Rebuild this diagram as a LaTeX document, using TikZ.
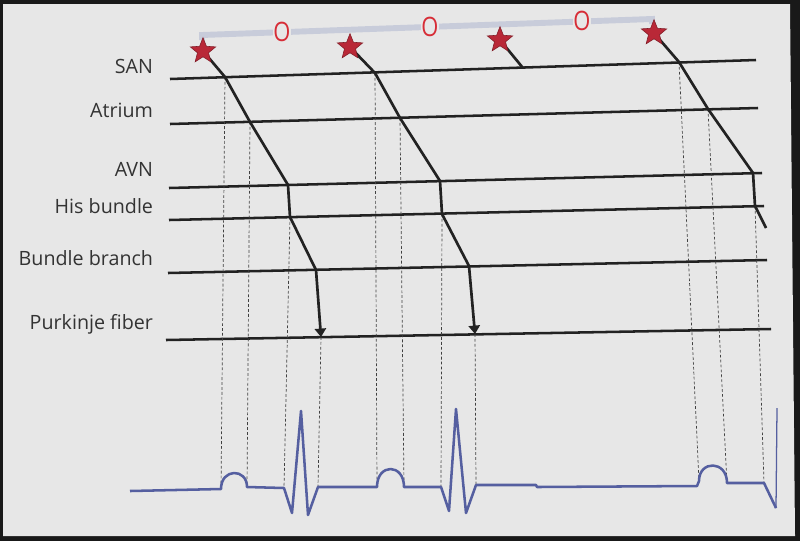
\documentclass[tikz,border=0pt]{standalone}
\usepackage{fontspec}
\setmainfont{Open Sans}
\usetikzlibrary{shapes.geometric,arrows.meta}

\definecolor{bgpaper}{RGB}{231,231,231}
\definecolor{inkline}{RGB}{34,34,34}
\definecolor{ecgblue}{RGB}{85,95,160}
\definecolor{starred}{RGB}{185,40,55}
\definecolor{barblue}{RGB}{200,204,218}
\definecolor{markred}{RGB}{215,45,55}

\begin{document}
\begin{tikzpicture}[x=0.025cm,y=-0.025cm,
    level/.style={line width=1.8pt, draw=inkline},
    cond/.style={line width=1.9pt, draw=inkline, line join=round},
    guide/.style={line width=0.5pt, draw=black!75, dash pattern=on 2pt off 1.5pt},
    ecg/.style={line width=1.8pt, draw=ecgblue, line join=round},
    gapbar/.style={line width=4.2pt, draw=barblue},
    spark/.style={star, star points=5, star point ratio=2.3, minimum size=19pt,
        inner sep=0pt, fill=starred, draw=starred!70!black, line width=0.4pt},
    okmark/.style={text=markred, fill=bgpaper, inner sep=0.5pt,
        font=\fontsize{19}{20}\selectfont},
    lbl/.style={anchor=base east, text=black!80, font=\fontsize{14}{16}\selectfont}]
\useasboundingbox (0,0) rectangle (800,541);

% photo frame
\fill[black!90] (0,0) rectangle (800,541);
\fill[bgpaper] (3,4) -- (790,4) -- (795,536) -- (3,536) -- cycle;

% tissue levels with their labels
\foreach \name/\txt/\yt/\xl/\yl/\xr/\yr in {san/SAN/73/170/79/756/60,
    atr/Atrium/117/170/124/758/108, avn/AVN/176/169/188/762/173,
    his/His bundle/213/169/220/764/206, bb/Bundle branch/265/168/273/767/260,
    pf/Purkinje fiber/329/166/340/771/329}
{
  \coordinate (\name-w) at (\xl,\yl);
  \coordinate (\name-e) at (\xr,\yr);
  \draw[level] (\name-w) -- (\name-e);
  \node[lbl] (lab-\name) at (158,\yt) {\txt};
}

% sinus impulses and bar with O marks
\coordinate (bartl) at (202,40);
\coordinate (barw) at (202,35);
\coordinate (bare) at (652,19);
\coordinate (bartr) at (652,24);
\draw[gapbar] (bartl) -- (barw) -- (bare) -- (bartr);
\node[okmark] (ok1) at (282,32) {\scalebox{0.82}[1]{O}};
\node[okmark] (ok2) at (430,27) {\scalebox{0.82}[1]{O}};
\node[okmark] (ok3) at (582,21) {\scalebox{0.82}[1]{O}};

\coordinate (st1) at (203,51);
\coordinate (st2) at (350,47);
\coordinate (st3) at (500,40);
\coordinate (st4) at (654,33);

% crossing points, beat 1
\coordinate (b1san) at (225,77);
\coordinate (b1atr) at (250,122);
\coordinate (b1avn) at (288,185);
\coordinate (b1his) at (290,217);
\coordinate (b1bb) at (316,270);
\coordinate (b1pf) at (321,337);
% beat 2
\coordinate (b2san) at (375,73);
\coordinate (b2atr) at (400,118);
\coordinate (b2avn) at (440,181);
\coordinate (b2his) at (442,214);
\coordinate (b2bb) at (469,266);
\coordinate (b2pf) at (475,334);
% beat 3 (blocked)
\coordinate (b3san) at (523,68);
% beat 4
\coordinate (b4san) at (679,62);
\coordinate (b4atr) at (708,109);
\coordinate (b4avn) at (753,173);
\coordinate (b4his) at (755,206);
\coordinate (b4end) at (766,228);

% ECG points
\coordinate (e0) at (130,491);
\coordinate (p1a) at (221,489);
\coordinate (p1b) at (247,487);
\coordinate (q1a) at (284,488);
\coordinate (q1b) at (318,487);
\coordinate (p2a) at (377,487);
\coordinate (p2b) at (404,487);
\coordinate (q2a) at (441,487);
\coordinate (q2b) at (476,485);
\coordinate (p3a) at (699,481);
\coordinate (p3b) at (727,483);
\coordinate (q3a) at (764,483);
\coordinate (s3) at (776,508);

% dashed guides down to the ECG
\foreach \u/\v in {b1san/p1a, b1atr/p1b, b1his/q1a, b1pf/q1b,
    b2san/p2a, b2atr/p2b, b2his/q2a, b2pf/q2b,
    b4san/p3a, b4atr/p3b, b4his/q3a}
  \draw[guide] (\u) -- (\v);

% conduction
\draw[cond] (st1) -- (b1san) -- (b1atr) -- (b1avn) -- (b1his) -- (b1bb);
\draw[cond,-{Triangle[length=6pt,width=8pt]}] (b1bb) -- (b1pf);
\draw[cond] (st2) -- (b2san) -- (b2atr) -- (b2avn) -- (b2his) -- (b2bb);
\draw[cond,-{Triangle[length=6pt,width=8pt]}] (b2bb) -- (b2pf);
\draw[cond] (st3) -- (b3san);
\draw[cond] (st4) -- (b4san) -- (b4atr) -- (b4avn) -- (b4his) -- (b4end);

\foreach \i in {1,...,4}
  \node[spark] (star\i) at (st\i) {};

% ECG trace
\draw[ecg] (e0) -- (p1a)
    .. controls (221,468) and (247,468) .. (p1b) -- (q1a)
    -- (292,513) -- (301,411) -- (308,515) -- (q1b) -- (p2a)
    .. controls (377,463) and (404,463) .. (p2b) -- (q2a)
    -- (449,511) -- (456,409) -- (466,513) -- (q2b) -- (536,485)
    -- (537,487) -- (697,486) -- (p3a)
    .. controls (699,460) and (727,460) .. (p3b) -- (q3a) -- (s3);
\draw[ecgblue, line width=0.9pt] (s3) -- (777,408);
\end{tikzpicture}
\end{document}
